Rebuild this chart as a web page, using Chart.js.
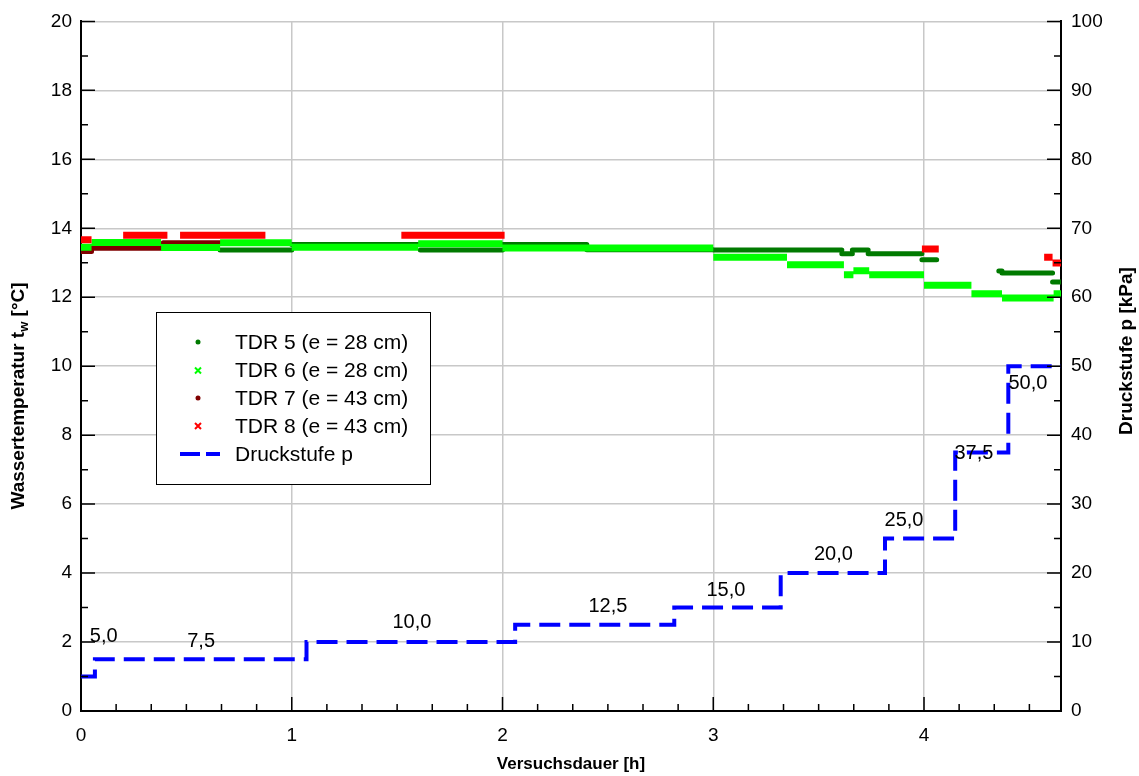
<!DOCTYPE html>
<html lang="de">
<head>
<meta charset="UTF-8">
<title>Wassertemperatur TDR / Druckstufen</title>
<style>
  body { margin: 0; background: #fff; }
  #wrap { width: 1139px; height: 776px; }
</style>
</head>
<body>
<div id="wrap"><canvas id="chart" width="1139" height="776"></canvas></div>

<script src="https://cdn.jsdelivr.net/npm/chart.js"></script>
<script>
// Druckstufen: Beginn der Stufe [h] und Druck [kPa]
const stepTimes = [0, 0.066, 1.07, 2.06, 2.815, 3.32, 3.815, 4.148, 4.40, 4.65];
const stepPressures = [5, 7.5, 10, 12.5, 15, 20, 25, 37.5, 50, 50];

// Beschriftung der Druckstufen (Lage in h / kPa)
const stepLabels = ['5,0', '7,5', '10,0', '12,5', '15,0', '20,0', '25,0', '37,5', '50,0'];
const stepLabelTimes = [0.108, 0.57, 1.57, 2.50, 3.06, 3.57, 3.905, 4.237, 4.493];
const stepLabelKpa = [10.8, 10.1, 12.9, 15.2, 17.5, 22.7, 27.6, 37.4, 47.5];

// TDR-Messwerte als Abschnitte gleicher Temperatur: von [h], bis [h], t_w [°C]
const tdr5From = [0.66, 1.00, 1.61, 2.00, 2.40, 3.00, 3.61, 3.66, 3.735, 3.99, 4.355, 4.37, 4.61];
const tdr5To   = [1.00, 1.61, 2.00, 2.40, 3.00, 3.61, 3.66, 3.735, 3.99, 4.06, 4.37, 4.61, 4.65];
const tdr5Temp = [13.37, 13.53, 13.37, 13.53, 13.38, 13.37, 13.26, 13.37, 13.26, 13.09, 12.76, 12.70, 12.44];

const tdr6From = [0.00, 0.05, 0.38, 0.66, 1.00, 1.60, 2.00, 3.00, 3.35, 3.62, 3.665, 3.74, 4.00, 4.225, 4.37, 4.615];
const tdr6To   = [0.05, 0.38, 0.66, 1.00, 1.60, 2.00, 3.00, 3.35, 3.62, 3.665, 3.74, 4.00, 4.225, 4.37, 4.615, 4.65];
const tdr6Temp = [13.45, 13.59, 13.44, 13.58, 13.45, 13.55, 13.43, 13.16, 12.94, 12.65, 12.77, 12.65, 12.35, 12.10, 11.98, 12.10];

const tdr7From = [0.00, 0.05, 0.39];
const tdr7To   = [0.05, 0.39, 0.66];
const tdr7Temp = [13.33, 13.42, 13.58];

const tdr8From = [0.00, 0.20, 0.47, 1.52, 3.99, 4.57, 4.61];
const tdr8To   = [0.05, 0.41, 0.875, 2.01, 4.07, 4.61, 4.65];
const tdr8Temp = [13.67, 13.80, 13.80, 13.80, 13.40, 13.16, 12.99];

const xTicks = [0, 1, 2, 3, 4];

// Abschnitte -> Punkte mit Lücken dazwischen
function segments(from, to, temp) {
    const pts = [];
    from.forEach((f, i) => {
        pts.push({ x: f, y: temp[i] }, { x: to[i], y: temp[i] }, { x: to[i], y: null });
    });
    return pts;
}

const FONT = "'Liberation Sans', Arial, sans-serif";
Chart.defaults.font.family = FONT;
Chart.defaults.color = '#000';

// kleine Ticks nach innen (Haupt- und Zwischenstriche)
const innerTicks = {
    id: 'innerTicks',
    afterDraw(chart) {
        const { ctx, chartArea: a, scales: { x, y, y2 } } = chart;
        ctx.save();
        ctx.strokeStyle = '#000';
        ctx.lineWidth = 1.5;
        ctx.beginPath();
        for (let i = 1; i / 6 <= x.max; i++) {
            const px = x.getPixelForValue(i / 6);
            const len = i % 6 === 0 ? 14 : 7;
            ctx.moveTo(px, a.bottom); ctx.lineTo(px, a.bottom - len);
        }
        for (let v = 1; v <= y.max; v++) {
            const py = y.getPixelForValue(v);
            const len = v % 2 === 0 ? 14 : 7;
            ctx.moveTo(a.left, py); ctx.lineTo(a.left + len, py);
        }
        for (let v = 5; v <= y2.max; v += 5) {
            const py = y2.getPixelForValue(v);
            const len = v % 10 === 0 ? 14 : 7;
            ctx.moveTo(a.right, py); ctx.lineTo(a.right - len, py);
        }
        ctx.stroke();
        ctx.restore();
    }
};

// Werte der Druckstufen am Linienzug
const stepText = {
    id: 'stepText',
    afterDatasetsDraw(chart) {
        const { ctx, scales: { x, y2 } } = chart;
        ctx.save();
        ctx.font = '20px ' + FONT;
        ctx.fillStyle = '#000';
        ctx.textAlign = 'center';
        ctx.textBaseline = 'middle';
        stepLabels.forEach((t, i) => {
            ctx.fillText(t, x.getPixelForValue(stepLabelTimes[i]), y2.getPixelForValue(stepLabelKpa[i]));
        });
        ctx.restore();
    }
};

// Legende im Diagramm + Achsentitel (mit Index)
const boxLegend = {
    id: 'boxLegend',
    afterDraw(chart) {
        const ctx = chart.ctx;
        ctx.save();
        ctx.fillStyle = '#fff';
        ctx.fillRect(156, 312, 274, 172);
        ctx.strokeStyle = '#000';
        ctx.lineWidth = 1;
        ctx.strokeRect(156.5, 312.5, 274, 172);

        const rows = [342, 370.5, 398, 426, 454];
        ctx.font = '21px ' + FONT;
        ctx.textBaseline = 'middle';
        chart.data.datasets.forEach((ds, i) => {
            const cy = rows[i];
            ctx.fillStyle = ds.borderColor;
            ctx.strokeStyle = ds.borderColor;
            if (ds.marker === 'dot') {
                ctx.beginPath();
                ctx.arc(198, cy, 2.5, 0, Math.PI * 2);
                ctx.fill();
            } else if (ds.marker === 'cross') {
                ctx.lineWidth = 2;
                ctx.beginPath();
                ctx.moveTo(195, cy - 3); ctx.lineTo(201, cy + 3);
                ctx.moveTo(201, cy - 3); ctx.lineTo(195, cy + 3);
                ctx.stroke();
            } else {
                ctx.lineWidth = 4;
                ctx.setLineDash([20, 6]);
                ctx.beginPath();
                ctx.moveTo(180, cy); ctx.lineTo(220, cy);
                ctx.stroke();
                ctx.setLineDash([]);
            }
            ctx.fillStyle = '#000';
            ctx.fillText(ds.label, 235, cy + 1);
        });

        // Achsentitel
        ctx.font = 'bold 17px ' + FONT;
        ctx.textAlign = 'center';
        ctx.fillText('Versuchsdauer [h]', 571, 764);

        ctx.save();
        ctx.translate(1127, 351);
        ctx.rotate(-Math.PI / 2);
        ctx.font = 'bold 19px ' + FONT;
        ctx.fillText('Druckstufe p [kPa]', 0, 0);
        ctx.restore();

        ctx.save();
        ctx.translate(19, 396);
        ctx.rotate(-Math.PI / 2);
        const p1 = 'Wassertemperatur t', p2 = 'w', p3 = ' [°C]';
        ctx.font = 'bold 19px ' + FONT;
        const w1 = ctx.measureText(p1).width, w3 = ctx.measureText(p3).width;
        ctx.font = 'bold 13px ' + FONT;
        const w2 = ctx.measureText(p2).width;
        let sx = -(w1 + w2 + w3) / 2;
        ctx.textAlign = 'left';
        ctx.font = 'bold 19px ' + FONT;
        ctx.fillText(p1, sx, 0);
        ctx.font = 'bold 13px ' + FONT;
        ctx.fillText(p2, sx + w1, 5);
        ctx.font = 'bold 19px ' + FONT;
        ctx.fillText(p3, sx + w1 + w2, 0);
        ctx.restore();

        ctx.restore();
    }
};

new Chart(document.getElementById('chart'), {
    type: 'line',
    data: {
        datasets: [
            {
                label: 'TDR 5 (e = 28 cm)', marker: 'dot', order: 4,
                data: segments(tdr5From, tdr5To, tdr5Temp),
                borderColor: '#007a00', borderWidth: 5, borderCapStyle: 'round',
                pointRadius: 0, yAxisID: 'y'
            },
            {
                label: 'TDR 6 (e = 28 cm)', marker: 'cross', order: 2,
                data: segments(tdr6From, tdr6To, tdr6Temp),
                borderColor: '#00ff00', borderWidth: 7, borderCapStyle: 'butt',
                pointRadius: 0, yAxisID: 'y'
            },
            {
                label: 'TDR 7 (e = 43 cm)', marker: 'dot', order: 3,
                data: segments(tdr7From, tdr7To, tdr7Temp),
                borderColor: '#800000', borderWidth: 5, borderCapStyle: 'round',
                pointRadius: 0, yAxisID: 'y'
            },
            {
                label: 'TDR 8 (e = 43 cm)', marker: 'cross', order: 1,
                data: segments(tdr8From, tdr8To, tdr8Temp),
                borderColor: '#ff0000', borderWidth: 7, borderCapStyle: 'butt',
                pointRadius: 0, yAxisID: 'y'
            },
            {
                label: 'Druckstufe p', marker: 'dash', order: 0,
                data: stepTimes.map((t, i) => ({ x: t, y: stepPressures[i] })),
                borderColor: '#0000ff', borderWidth: 4, borderDash: [21, 9],
                stepped: true, pointRadius: 0, yAxisID: 'y2'
            }
        ]
    },
    options: {
        responsive: false,
        animation: false,
        spanGaps: false,
        layout: { padding: { top: 18 } },
        plugins: { legend: { display: false }, tooltip: { enabled: false } },
        scales: {
            x: {
                type: 'linear', min: 0, max: 4.65,
                afterBuildTicks: s => { s.ticks = xTicks.map(v => ({ value: v })); },
                afterFit: s => { s.height = 65; },
                ticks: { padding: 13, font: { size: 19 }, maxRotation: 0 },
                grid: { color: '#c8c8c8', lineWidth: 1.5, drawTicks: false },
                border: { color: '#000', width: 2 }
            },
            y: {
                position: 'left', min: 0, max: 20,
                afterFit: s => { s.width = 81; },
                ticks: { stepSize: 2, padding: 9, font: { size: 19 } },
                grid: { color: '#c8c8c8', lineWidth: 1.5, drawTicks: false },
                border: { color: '#000', width: 2 }
            },
            y2: {
                position: 'right', min: 0, max: 100,
                afterFit: s => { s.width = 78; },
                ticks: { stepSize: 10, padding: 10, font: { size: 19 } },
                grid: { display: false, drawTicks: false },
                border: { color: '#000', width: 2 }
            }
        }
    },
    plugins: [innerTicks, stepText, boxLegend]
});
</script>
</body>
</html>
